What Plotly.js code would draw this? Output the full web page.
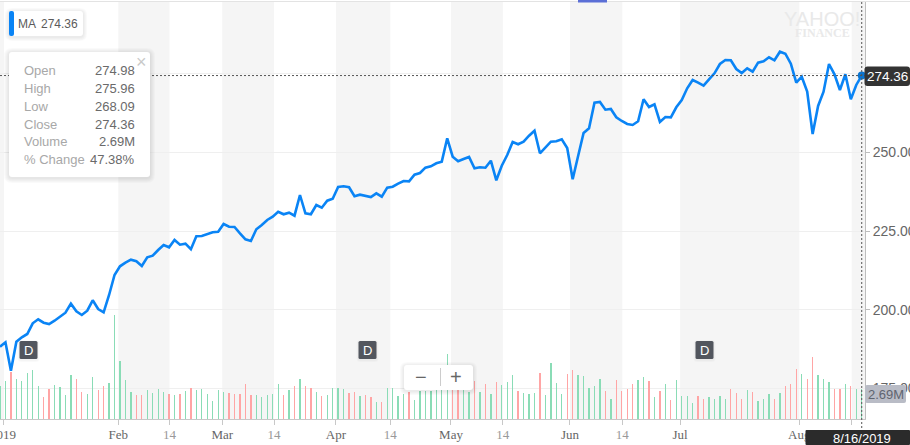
<!DOCTYPE html>
<html>
<head>
<meta charset="utf-8">
<script src="https://cdn.plot.ly/plotly-3.0.1.min.js"></script>
<style>html,body{margin:0;padding:0;background:#fff;overflow:hidden}#chart{width:910px;height:445px}</style>
</head>
<body>
<div id="chart"></div>
<script>
// Daily close of MA, 31 Dec 2018 to 16 Aug 2019 (one value per trading day)
const closePrices = [
188.29,189.68,180.67,189.87,191.27,192.32,195.71,196.98,195.90,195.49,
196.54,197.71,199.08,201.94,199.52,198.35,199.71,203.02,200.25,199.21,
204.70,211.05,213.81,214.95,215.90,215.40,213.90,216.67,217.17,218.98,
220.57,219.84,222.16,220.67,220.98,219.21,223.33,223.43,224.06,224.60,
224.79,227.24,226.38,226.29,224.29,222.38,221.84,225.56,226.92,228.51,
229.56,231.14,230.32,230.83,229.87,236.44,230.63,230.32,233.27,232.41,
234.63,235.27,238.98,239.21,238.89,236.03,236.54,236.22,235.81,236.98,
235.90,238.76,239.08,240.03,240.89,240.79,242.89,243.43,245.11,245.56,
246.51,247.02,254.44,248.60,247.14,247.87,248.51,244.92,245.24,245.11,
247.33,241.11,245.75,249.14,253.27,252.54,253.37,255.27,256.86,249.68,
251.59,253.37,253.49,254.13,251.37,241.46,248.83,256.13,257.62,265.75,
265.97,263.52,263.75,261.11,259.94,258.98,258.67,259.84,266.83,264.38,
265.24,259.62,261.21,261.11,264.29,266.60,270.32,272.95,272.10,271.14,
273.17,275.08,278.03,279.30,279.21,276.44,275.17,276.67,275.59,278.44,
278.89,280.16,279.21,281.94,281.30,278.13,272.10,274.00,269.24,255.81,
264.70,269.24,278.03,274.76,269.78,274.76,266.83,271.37,274.36];

// Volume in millions of shares
const volumes = [
2.96,3.40,4.14,3.58,3.40,4.11,4.38,2.96,1.98,2.69,
3.05,2.87,2.16,3.93,3.58,2.43,2.25,3.76,2.60,2.96,
3.22,9.20,5.18,3.49,2.43,2.16,2.16,2.60,2.34,2.69,
2.43,2.25,2.16,2.25,2.51,2.78,2.60,2.69,2.25,1.63,
2.60,2.43,2.34,2.25,2.25,3.14,2.16,2.16,1.98,2.16,
2.25,3.14,2.16,2.60,2.96,3.58,2.96,2.78,2.43,2.07,
2.16,2.78,2.78,2.69,2.34,2.43,2.07,2.16,1.98,1.54,
1.54,2.78,2.78,2.07,2.25,2.43,1.72,2.51,2.51,2.51,
2.66,2.75,5.80,2.75,2.60,2.60,2.43,3.40,2.43,3.14,
2.25,3.31,3.05,3.31,3.93,2.51,2.34,2.25,2.34,4.11,
2.16,5.00,3.22,2.25,4.02,4.38,3.93,3.85,2.78,2.96,
3.58,2.51,1.80,3.49,2.51,2.69,3.14,3.49,3.76,3.40,
1.98,2.51,3.14,1.72,3.49,2.07,2.07,1.45,2.07,1.80,
1.98,1.80,2.07,1.80,2.69,2.34,1.80,2.60,2.43,1.63,
1.80,2.25,1.80,2.34,2.96,3.14,4.47,4.02,3.58,5.53,
3.93,3.58,3.31,2.69,2.69,3.14,2.96,2.69,2.69];

// 1 = session closed up (green bar), 0 = closed down (red bar)
const sessionUp = [
1,1,0,1,1,1,1,1,0,0,
1,1,1,1,0,0,1,1,0,0,
1,1,1,1,1,0,0,1,1,1,
1,0,1,0,1,0,1,1,1,1,
1,1,0,0,0,0,0,1,1,1,
1,1,0,1,0,1,0,0,1,0,
1,1,1,1,0,0,1,0,0,1,
0,1,1,1,1,0,1,1,1,1,
1,1,1,0,0,1,1,0,1,0,
1,0,1,1,1,0,1,1,1,0,
1,1,1,1,0,0,1,1,1,1,
1,0,1,0,0,0,0,1,1,0,
1,0,1,0,1,1,1,1,0,0,
1,1,1,1,0,0,0,1,0,1,
1,1,0,1,0,0,0,1,0,0,
1,1,1,0,0,1,0,1,1];

const tradingDay = closePrices.map((_, i) => i);

// Month and mid-month marks, positioned on the trading-day axis
const tickLabels = ['','Feb','14','Mar','14','Apr','14','May','14','Jun','14','Jul','Aug','14'];
const tickDays = [0.73,21.69,31.08,40.75,50.24,61.6,71.56,82.69,92.2,104.5,114.1,124.7,146.55,156.16];
const priceTicks = [175,200,225,250,275];
const shadedFrom = [-1,21.69,40.75,61.6,82.69,104.5,124.7,156.16];
const shadedTo   = [0.73,31.08,50.24,71.56,92.2,114.1,146.55,170];

const infoLabels = ['Open','High','Low','Close','Volume','% Change'];
const infoValues = ['274.98','275.96','268.09','274.36','2.69M','47.38%'];
const lastClose = 274.36, lastDay = tradingDay[tradingDay.length - 1];

const W = 910, H = 445, mL = 0, mR = 45, mT = 2, mB = 26;
const px = x => (x - mL) / (W - mL - mR);
const py = y => (H - mB - y) / (H - mT - mB);
const sans = '"Liberation Sans", Arial, sans-serif';
const serif = '"Liberation Serif", "Times New Roman", serif';

function roundPath(x0, y0, x1, y1, r) {
  const p = (x, y) => px(x) + ',' + py(y);
  return 'M' + p(x0 + r, y0) + ' L' + p(x1 - r, y0) + ' Q' + p(x1, y0) + ' ' + p(x1, y0 + r) +
    ' L' + p(x1, y1 - r) + ' Q' + p(x1, y1) + ' ' + p(x1 - r, y1) +
    ' L' + p(x0 + r, y1) + ' Q' + p(x0, y1) + ' ' + p(x0, y1 - r) +
    ' L' + p(x0, y0 + r) + ' Q' + p(x0, y0) + ' ' + p(x0 + r, y0) + ' Z';
}
function box(x0, y0, x1, y1, r, fill) {
  return {type:'path', xref:'paper', yref:'paper', layer:'above', path:roundPath(x0,y0,x1,y1,r),
          fillcolor:fill, line:{width:0}};
}
function card(x0, y0, x1, y1, r, spread, fill) {
  const out = [];
  for (let s = spread; s >= 1; s--) out.push(box(x0-s, y0-s+1, x1+s, y1+s+1, r+s, 'rgba(0,0,0,0.018)'));
  out.push(box(x0, y0, x1, y1, r, fill || '#ffffff'));
  return out;
}
function label(text, x, y, opts) {
  return Object.assign({xref:'paper', yref:'paper', x:px(x), y:py(y), text:text, showarrow:false,
    xanchor:'center', yanchor:'middle', font:{family:sans, size:13, color:'#666'}}, opts || {});
}

const shapes = [];
shadedFrom.forEach((from, k) => shapes.push({type:'rect', xref:'x', yref:'paper', layer:'below',
  x0:from, x1:shadedTo[k], y0:0, y1:1, fillcolor:'#f5f5f5', line:{width:0}}));
// frame pieces
shapes.push({type:'line', xref:'paper', yref:'paper', layer:'above', x0:0, x1:px(910), y0:py(1.5), y1:py(1.5), line:{color:'#e3e3e3', width:1}});
shapes.push({type:'rect', xref:'paper', yref:'paper', layer:'above', x0:px(578), x1:px(607), y0:py(2.5), y1:py(0), fillcolor:'#5b6fd6', line:{width:0}});
// crosshair
shapes.push({type:'line', xref:'paper', yref:'y2', layer:'above', x0:0, x1:1, y0:lastClose, y1:lastClose, line:{color:'#555', width:1, dash:'2px,2px'}});
shapes.push({type:'line', xref:'x', yref:'paper', layer:'above', x0:lastDay, x1:lastDay, y0:py(428), y1:py(2), line:{color:'#555', width:1, dash:'2px,2px'}});
// legend chip, info card, zoom control
shapes.push(...card(9, 11, 83, 36, 3, 4));
shapes.push(box(9, 11, 14, 36, 2, '#0a84f5'));
shapes.push(...card(9, 52, 150, 177, 3, 5));
shapes.push(...card(404, 365, 473, 390, 3, 4));
shapes.push({type:'line', xref:'paper', yref:'paper', layer:'above', x0:px(440.5), x1:px(440.5), y0:py(368), y1:py(386), line:{color:'#ccc', width:1}});
// event badges
[19.5, 358.5, 695.5].forEach(x => {
  shapes.push(...card(x, 341, x + 18, 359, 1.5, 2, '#52565e'));
});
// right-side value tags
shapes.push(box(864.5, 66.5, 910, 86, 3, '#333333'));
shapes.push(box(865, 385, 906, 403, 2, '#b9bcc6'));
shapes.push(box(805.5, 430, 910, 445, 1, '#2b2b2b'));

const annotations = [
  label('2019', 3, 434.5, {font:{family:serif, size:13, color:'#666'}}),
  label('MA', 27, 24, {font:{family:sans, size:12, color:'#5b5b5b'}}),
  label('274.36', 60, 24, {font:{family:sans, size:12, color:'#5b5b5b'}}),
  label('×', 141, 62, {font:{family:sans, size:18, color:'#c9c9c9'}}),
  label('D', 28.5, 350, {font:{family:sans, size:13, color:'#fff'}}),
  label('D', 367.5, 350, {font:{family:sans, size:13, color:'#fff'}}),
  label('D', 704.5, 350, {font:{family:sans, size:13, color:'#fff'}}),
  label('−', 421, 377, {font:{family:sans, size:20, color:'#666'}}),
  label('+', 456, 377, {font:{family:sans, size:20, color:'#666'}}),
  label('YAHOO!', 822, 19, {font:{family:'"Liberation Sans Narrow", "Liberation Sans", sans-serif', size:20, color:'#e9e9e9'}}),
  label('FINANCE', 822, 33, {font:{family:serif, size:12, color:'#e9e9e9', weight:700}}),
  label('274.36', 887.5, 76.5, {font:{family:sans, size:13.5, color:'#ffffff'}}),
  label('2.69M', 886, 394, {font:{family:sans, size:13, color:'#5f6470'}}),
  label('8/16/2019', 862, 438.5, {font:{family:sans, size:13, color:'#ffffff'}})
];
infoLabels.forEach((t, k) => annotations.push(label(t, 22, 71 + k * 17.67,
  {xanchor:'left', font:{family:sans, size:13, color:'#a8a8a8'}})));
infoValues.forEach((t, k) => annotations.push(label(t, 137, 71 + k * 17.67,
  {xanchor:'right', font:{family:sans, size:13, color:'#6a6a6a'}})));

const volumeTrace = {
  type:'bar', x:tradingDay, y:volumes, yaxis:'y', xaxis:'x', width:0.24,
  marker:{color:sessionUp.map(u => u ? '#8adcb6' : '#ffa5a5'), line:{width:0}},
  hoverinfo:'skip', showlegend:false
};
const priceTrace = {
  type:'scatter', mode:'lines', x:tradingDay, y:closePrices, yaxis:'y2', xaxis:'x',
  line:{color:'#0a84f5', width:2.6, shape:'linear'}, hoverinfo:'skip', showlegend:false
};
const lastPoint = {
  type:'scatter', mode:'markers', x:[lastDay], y:[lastClose], yaxis:'y2', xaxis:'x',
  marker:{color:'#0a74cf', size:8}, hoverinfo:'skip', showlegend:false, cliponaxis:false
};

const layout = {
  width:W, height:H,
  margin:{l:mL, r:mR, t:mT, b:mB, pad:0},
  paper_bgcolor:'#fff', plot_bgcolor:'rgba(0,0,0,0)',
  showlegend:false, bargap:0,
  xaxis:{
    range:[0, 158.6], tickmode:'array', tickvals:tickDays,
    ticktext:tickLabels.map(t => t === '14' ? '<span style="color:#999">14</span>' : t),
    showgrid:false, zeroline:false, showline:true, linecolor:'#c8c8c8', linewidth:1,
    ticks:'outside', ticklen:5, tickcolor:'#c8c8c8', tickwidth:1, ticklabelstandoff:-2,
    tickangle:0, tickfont:{family:serif, size:13, color:'#666'}, fixedrange:true
  },
  yaxis:{range:[0, 37.0], visible:false, fixedrange:true},
  yaxis2:{
    overlaying:'y', side:'right', anchor:'x', range:[165.33, 297.71],
    tickmode:'array', tickvals:priceTicks, tickformat:'.2f',
    showgrid:true, gridcolor:'#efefef', gridwidth:1, zeroline:false,
    showline:true, linecolor:'#bdbdbd', linewidth:1,
    ticks:'outside', ticklen:4, tickcolor:'#bdbdbd',
    tickfont:{family:sans, size:14, color:'#666'}, fixedrange:true
  },
  shapes:shapes, annotations:annotations
};

Plotly.newPlot('chart', [volumeTrace, priceTrace, lastPoint], layout, {displayModeBar:false, staticPlot:true});
</script>
</body>
</html>
